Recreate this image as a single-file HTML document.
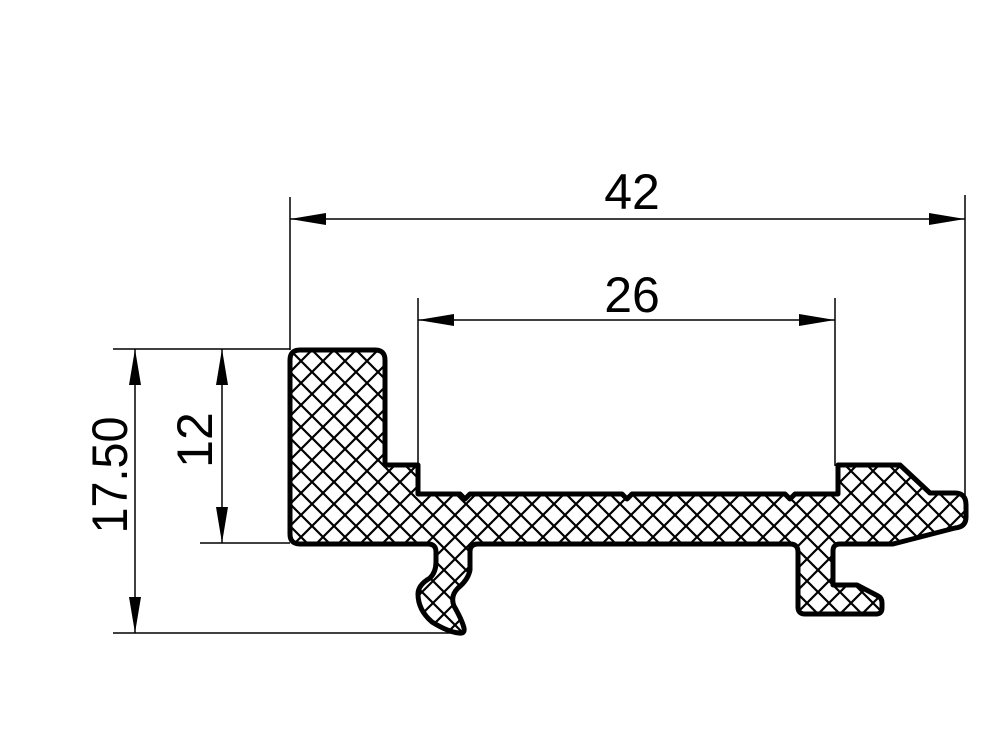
<!DOCTYPE html>
<html><head><style>html,body{margin:0;padding:0;background:#fff}svg{display:block}</style></head>
<body>
<svg width="1000" height="750" viewBox="0 0 1000 750" xmlns="http://www.w3.org/2000/svg">
<defs>
<pattern id="h" width="22" height="22" patternUnits="userSpaceOnUse" x="290" y="350">
<path d="M0 0L22 22M22 0L0 22" stroke="#000" stroke-width="2.2"/>
</pattern>
</defs>
<g stroke="#000" stroke-width="1.5" fill="none">
<line x1="290" y1="197" x2="290" y2="350"/>
<line x1="965" y1="195" x2="965" y2="495"/>
<line x1="290" y1="219" x2="965" y2="219"/>
<line x1="418" y1="298" x2="418" y2="466"/>
<line x1="835" y1="298" x2="835" y2="466"/>
<line x1="418" y1="320" x2="835" y2="320"/>
<line x1="113" y1="349" x2="290" y2="349"/>
<line x1="113" y1="633" x2="460" y2="633"/>
<line x1="200" y1="543" x2="290" y2="543"/>
<line x1="135" y1="349" x2="135" y2="633"/>
<line x1="222" y1="349" x2="222" y2="543"/>
</g>
<g fill="#000">
<polygon points="290,219 326,213 326,225"/>
<polygon points="965,219 929,213 929,225"/>
<polygon points="418,320 454,314 454,326"/>
<polygon points="835,320 799,314 799,326"/>
<polygon points="135,349 129,385 141,385"/>
<polygon points="135,633 129,597 141,597"/>
<polygon points="222,349 216,385 228,385"/>
<polygon points="222,543 216,507 228,507"/>
</g>
<path fill="url(#h)" stroke="#000" stroke-width="5" stroke-linejoin="round" d="
M300 350 L375 350 Q385 350 385 360 L385 465 L418 465 L418 494
L460 494 L465 499 L470 494 L622 494 L627 499 L632 494 L785 494 L790 499 L795 494
L838 494 L838 465 L900 465 L930 493 L955 493 Q966 493 966 505 L966 517 Q966 527 955 528
L893 544 L840 544 Q833 544 833 551 L833 585 L857 585 L878 596 Q882 598 882 603 L882 608 Q882 614 876 614
L805 614 Q798 614 798 607 L798 552 Q798 544 790 544
L478 544 Q470 544 470 552 L470 570 Q468 580 458 588 Q450 596 454 606 Q462 620 464 628 Q465 634 459 633 Q448 632 432 622 Q418 610 418 594 Q418 585 430 578 Q436 572 436 562 L436 552 Q436 544 428 544
L300 544 Q290 544 290 534 L290 360 Q290 350 300 350 Z"/>
<g font-family="Liberation Sans, sans-serif" font-size="50" fill="#000">
<text x="632" y="209" text-anchor="middle">42</text>
<text x="632" y="312" text-anchor="middle">26</text>
<text transform="translate(127,475) rotate(-90)" text-anchor="middle" textLength="117" lengthAdjust="spacingAndGlyphs">17.50</text>
<text transform="translate(212,440) rotate(-90)" text-anchor="middle">12</text>
</g>
</svg>
</body></html>
